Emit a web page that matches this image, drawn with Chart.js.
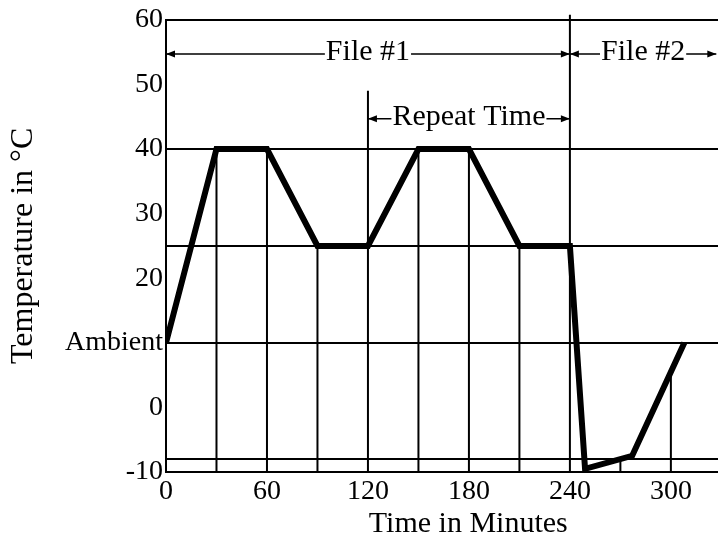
<!DOCTYPE html>
<html>
<head>
<meta charset="utf-8">
<title>Temperature profile</title>
<script src="https://cdn.jsdelivr.net/npm/chart.js@4.4.1/dist/chart.umd.min.js"></script>
<style>
  html, body { margin: 0; padding: 0; background: #fff; }
  canvas { display: block; }
</style>
</head>
<body>
<canvas id="profileChart" width="718" height="542"></canvas>
<script>
// temperature profile (minutes, deg C)
var profileTime = [0, 30, 60, 90, 120, 150, 180, 210, 240, 249, 277, 308];
var profileTemp = [10, 40, 40, 25, 25, 40, 40, 25, 25, -9.5, -7.5, 10];

// vertical drop lines down to the time axis
var dropTime = [30, 60, 90, 120, 150, 180, 210, 240, 270, 300];
var dropTop = [40, 40, 25, 49, 40, 40, 25, 60.8, -8.2, 5];

// horizontal reference lines
var refLevels = [60, 40, 25, 10, -8];

// ticks
var xTicks = [0, 60, 120, 180, 240, 300];
var yTicks = [-10, -8, 0, 10, 20, 25, 30, 40, 50, 60];
var yTickLabels = ['-10', '', '0', 'Ambient', '20', '', '30', '40', '50', '60'];

// arrows above the profile
var spanLabels = ['File #1', 'File #2', 'Repeat Time'];
var spanStart = [0, 240, 120];
var spanEnd = [240, 327, 240];
var spanLevel = [54.7, 54.7, 44.7];

var serif = 'Liberation Serif';

function drawHead(ctx, px, py, dir) {
    ctx.beginPath();
    ctx.moveTo(px, py);
    ctx.lineTo(px - dir * 9, py - 3.5);
    ctx.lineTo(px - dir * 9, py + 3.5);
    ctx.closePath();
    ctx.fill();
}

// draws the labelled double arrows
var spanArrows = {
    id: 'spanArrows',
    afterDatasetsDraw: function(chart) {
        var ctx = chart.ctx;
        var xs = chart.scales.x, ys = chart.scales.y;
        ctx.save();
        ctx.font = '30px "' + serif + '"';
        ctx.fillStyle = '#000';
        ctx.strokeStyle = '#000';
        ctx.lineWidth = 1.5;
        ctx.textAlign = 'center';
        ctx.textBaseline = 'middle';
        for (var i = 0; i < spanLabels.length; i++) {
            var x1 = xs.getPixelForValue(spanStart[i]);
            var x2 = xs.getPixelForValue(spanEnd[i]);
            var py = ys.getPixelForValue(spanLevel[i]);
            var mid = (x1 + x2) / 2;
            var half = ctx.measureText(spanLabels[i]).width / 2;
            ctx.beginPath();
            ctx.moveTo(x1, py);
            ctx.lineTo(mid - half - 1, py);
            ctx.moveTo(mid + half + 1, py);
            ctx.lineTo(x2, py);
            ctx.stroke();
            drawHead(ctx, x1, py, -1);
            drawHead(ctx, x2, py, 1);
            ctx.fillText(spanLabels[i], mid, py - 2);
        }
        ctx.restore();
    }
};

var datasets = [{
    data: profileTime.map(function(t, i) { return { x: t, y: profileTemp[i] }; }),
    borderColor: '#000',
    borderWidth: 6,
    borderJoinStyle: 'miter',
    pointRadius: 0,
    order: 0
}];

dropTime.forEach(function(t, i) {
    datasets.push({
        data: [{ x: t, y: -10 }, { x: t, y: dropTop[i] }],
        borderColor: '#000',
        borderWidth: 2,
        pointRadius: 0,
        clip: false,
        order: 1
    });
});

var ctx = document.getElementById('profileChart').getContext('2d');
var profileChart = new Chart(ctx, {
    type: 'line',
    data: { datasets: datasets },
    options: {
        responsive: false,
        animation: false,
        layout: { padding: { top: 18, left: 0, right: 0, bottom: 0 } },
        plugins: {
            legend: { display: false },
            tooltip: { enabled: false }
        },
        scales: {
            x: {
                type: 'linear',
                min: 0,
                max: 328,
                afterBuildTicks: function(scale) {
                    scale.ticks = xTicks.map(function(v) { return { value: v }; });
                },
                afterFit: function(scale) { scale.height = 70; },
                grid: { color: 'rgba(0,0,0,0)', drawTicks: false },
                border: { color: '#000', width: 2 },
                ticks: {
                    color: '#000',
                    font: { family: serif, size: 28 },
                    padding: 3,
                    maxRotation: 0,
                    autoSkip: false
                },
                title: {
                    display: true,
                    text: '\u00a0\u00a0\u00a0\u00a0\u00a0\u00a0\u00a0Time in Minutes',
                    color: '#000',
                    font: { family: serif, size: 30 },
                    padding: { top: 0, bottom: 0 }
                }
            },
            y: {
                min: -10,
                max: 60,
                afterBuildTicks: function(scale) {
                    scale.ticks = yTicks.map(function(v) { return { value: v }; });
                },
                afterFit: function(scale) { scale.width = 166; },
                grid: {
                    color: function(c) {
                        return c.tick && refLevels.indexOf(c.tick.value) >= 0 ? '#000' : 'rgba(0,0,0,0)';
                    },
                    lineWidth: 2,
                    drawTicks: false
                },
                border: { color: '#000', width: 2 },
                ticks: {
                    color: '#000',
                    font: { family: serif, size: 28 },
                    padding: 3,
                    autoSkip: false,
                    callback: function(value, index) { return yTickLabels[index]; }
                },
                title: {
                    display: true,
                    text: 'Temperature in °C',
                    color: '#000',
                    font: { family: serif, size: 32 },
                    padding: { top: 4, bottom: 0 }
                }
            }
        }
    },
    plugins: [spanArrows]
});
</script>
</body>
</html>
